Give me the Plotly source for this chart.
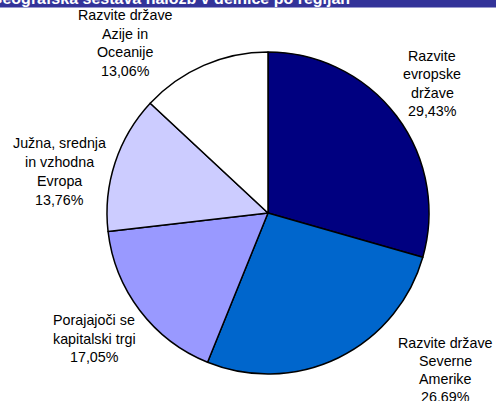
import plotly.graph_objects as go

# ---- data ----
categories = [
    "Razvite\nevropske\ndržave",
    "Razvite države\nSeverne\nAmerike",
    "Porajajoči se\nkapitalski trgi",
    "Južna, srednja\nin vzhodna\nEvropa",
    "Razvite države\nAzije in\nOceanije",
]
values = [29.43, 26.69, 17.05, 13.76, 13.06]
colors = ["#000080", "#0066CC", "#9999FF", "#CCCCFF", "#FFFFFF"]
title_text = "Geografska sestava naložb v delnice po regijah"

W, H = 496, 401
CX, CY, R = 268, 213, 161

def px_x(x):
    return x / W

def px_y(y):
    return 1 - y / H

fig = go.Figure()
fig.add_trace(go.Pie(
    labels=[c.replace("\n", " ") for c in categories],
    values=values,
    sort=False,
    direction="clockwise",
    rotation=0,
    marker=dict(colors=colors, line=dict(color="#000000", width=1.5)),
    textinfo="none",
    hoverinfo="skip",
    showlegend=False,
    domain=dict(x=[px_x(CX - R), px_x(CX + R)], y=[px_y(CY + R), px_y(CY - R)]),
))

# label placement (pixel centres of first line, line spacing)
label_pos = [(432, 56, 18.3), (445, 343, 18.0), (94, 320, 18.5), (59, 143, 19.0), (125, 15, 18.7)]
annotations = []
for cat, val, (lx, ly, sp) in zip(categories, values, label_pos):
    lines = cat.split("\n") + [f"{val:.2f}".replace(".", ",") + "%"]
    for i, ln in enumerate(lines):
        annotations.append(dict(
            x=px_x(lx), y=px_y(ly + i * sp), xref="paper", yref="paper",
            text=ln, showarrow=False, xanchor="center", yanchor="middle",
            font=dict(family="Liberation Sans, Arial, sans-serif", size=14.3, color="#000000"),
        ))

# cropped title banner
annotations.append(dict(
    x=px_x(170), y=px_y(9), xref="paper", yref="paper", text="<b>" + title_text + "</b>",
    showarrow=False, xanchor="center", yanchor="bottom",
    font=dict(family="Liberation Sans, Arial, sans-serif", size=16, color="#FFFFFF"),
))

fig.update_layout(
    width=W, height=H, margin=dict(l=0, r=0, t=0, b=0),
    paper_bgcolor="#FFFFFF", plot_bgcolor="#FFFFFF",
    shapes=[dict(type="rect", xref="paper", yref="paper", x0=0, x1=1, y0=px_y(7.5), y1=1.0,
                 fillcolor="#333399", line=dict(width=0), layer="below")],
    annotations=annotations,
)
fig.write_html("out.html", config={"displayModeBar": False},
               post_script="document.body.style.margin='0';document.body.style.overflow='hidden';")
